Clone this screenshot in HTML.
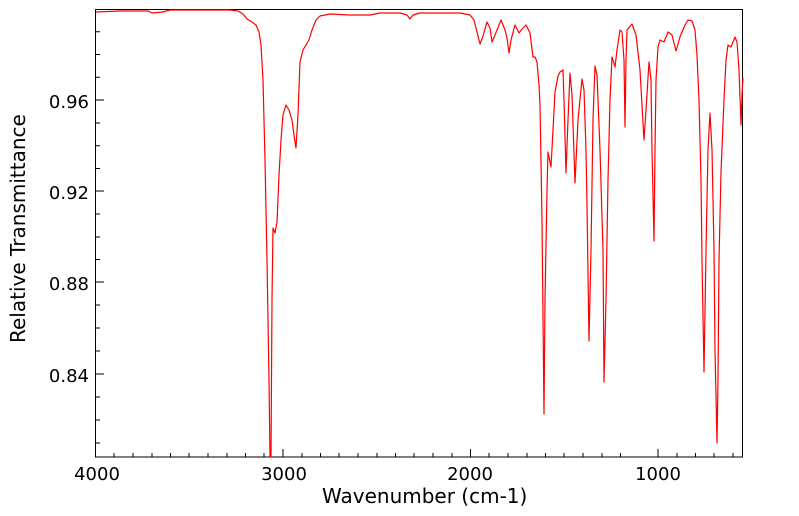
<!DOCTYPE html>
<html><head><meta charset="utf-8"><style>
html,body{margin:0;padding:0;background:#fff;}
svg{display:block;font-family:"DejaVu Sans","Liberation Sans",sans-serif;}
</style></head><body>
<svg width="799" height="516" viewBox="0 0 799 516" xmlns="http://www.w3.org/2000/svg">
<rect x="0" y="0" width="799" height="516" fill="#fff"/>
<g stroke="#000" stroke-width="1">
<path d="M95.5 457v-8M283 457v-8M470.5 457v-8M658 457v-8"/>
<path d="M114 457v-4M133 457v-4M152 457v-4M170.5 457v-4M189 457v-4M208 457v-4M227 457v-4M245.5 457v-4M264 457v-4M302 457v-4M320.5 457v-4M339 457v-4M358 457v-4M377 457v-4M395.5 457v-4M414 457v-4M433 457v-4M452 457v-4M489 457v-4M508 457v-4M527 457v-4M545.5 457v-4M564 457v-4M583 457v-4M602 457v-4M620.5 457v-4M677 457v-4M695.5 457v-4M714 457v-4M733 457v-4"/>
<path d="M96 100h8M96 191h8M96 282h8M96 374h8"/>
<path d="M96 31.7h4M96 54.5h4M96 77.3h4M96 123h4M96 145.7h4M96 168.5h4M96 214h4M96 237h4M96 259.5h4M96 305h4M96 328h4M96 351h4M96 397h4M96 420h4M96 443h4"/>
</g>
<rect x="95.5" y="9.5" width="647" height="447.5" fill="none" stroke="#000" stroke-width="1"/>
<g font-size="18" fill="#000">
<text x="89" y="108" text-anchor="end">0.96</text>
<text x="89" y="199" text-anchor="end">0.92</text>
<text x="89" y="290" text-anchor="end">0.88</text>
<text x="89" y="382" text-anchor="end">0.84</text>
<text x="97" y="480" text-anchor="middle">4000</text>
<text x="284" y="480" text-anchor="middle">3000</text>
<text x="470" y="480" text-anchor="middle">2000</text>
<text x="658" y="480" text-anchor="middle">1000</text>
</g>
<g font-size="20" fill="#000">
<text x="322" y="503">Wavenumber (cm-1)</text>
<text transform="translate(25,343) rotate(-90)">Relative Transmittance</text>
</g>
<polyline fill="none" stroke="#f00" stroke-width="1.2" stroke-linejoin="round" points="
96,12 120,11 148,11 152,13 163,12 170,10 230,10 238,11 243,14 247,19 252,22 256,25 259,32 261,45 263,80 265,160 267,260 269,380 270,457 271,457 272,300 273,228 275,233 277,222 279,175 281,140 283,115 286,105 289,110 292,120 294,135 296,148 298,115 300,62 303,50 306,45 309,40 312,30 316,20 320,16 330,14 350,15 370,15 380,13 400,13 407,15 410,19 413,15 420,13 460,13 470,15 474,20 477,32 480,44 483,36 487,22 490,28 492,42 495,35 501,20 505,30 507,38 509,53 511,40 515,25 519,33 522,29 526,25 530,33 533,57 535,57 537,62 539,85 540,105 542,220 544,414 545,300 547,190 548,152 551,167 553,130 555,92 558,76 560,72 563,70 564,100 566,173 568,120 570,73 572,95 575,183 578,120 582,79 584,90 586,150 587,205 589,341 591,250 593,120 595,66 597,75 600,150 603,250 604,382 606,300 608,180 610,100 612,57 615,67 617,50 620,30 622,32 624,60 625,127 626,60 627,30 632,24 636,35 640,70 644,140 646,110 649,62 651,80 652,150 654,241 655,150 656,80 658,47 660,40 664,42 668,32 672,35 676,51 680,37 685,25 688,20 692,21 695,30 697,55 699,100 701,180 702,260 704,372 706,250 708,150 710,113 712,150 714,250 715,350 717,443 718,380 719,260 721,172 724,100 726,60 728,45 731,47 735,37 737,42 739,70 741,125 742,95 743,78"/>
</svg>
</body></html>
